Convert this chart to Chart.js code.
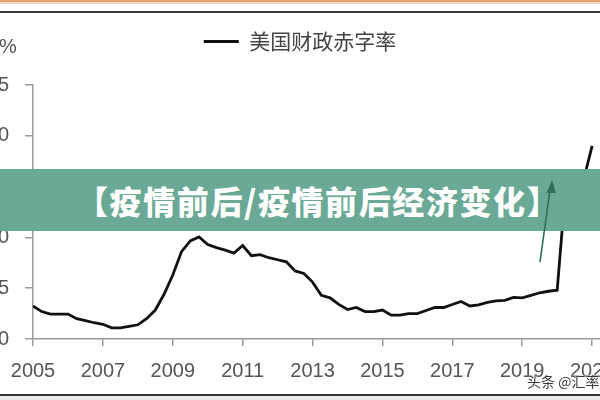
<!DOCTYPE html>
<html>
<head>
<meta charset="utf-8">
<script src="https://cdn.jsdelivr.net/npm/chart.js@4"></script>
<style>
html,body{margin:0;padding:0;width:600px;height:400px;overflow:hidden;background:#fff;}
body{position:relative;}
#wrap{position:absolute;left:-18px;top:0;width:636px;height:400px;}
.ov{position:absolute;z-index:5;}
#topA{left:0;top:0;width:600px;height:2px;background:#e8a26e;}
#topB{left:0;top:2px;width:600px;height:2px;background:#f7d3c6;}
#topLine{left:0;top:11px;width:600px;height:2px;background:#3a3a3a;}
#botLine{left:0;top:394px;width:600px;height:2px;background:#333;}
#botFill{left:0;top:396px;width:600px;height:4px;background:#ececec;}
#pct{left:-1px;top:35px;font:20px "Liberation Sans",Arial,sans-serif;color:#555;}
#banner{left:0;top:169px;width:600px;height:62px;background:#6aa995;}
#bannerText{left:76px;top:169px;height:62px;line-height:62px;font-family:"Noto Sans CJK SC",sans-serif;font-weight:900;font-size:32px;letter-spacing:1.6px;color:#fff;white-space:nowrap;}
#wm{left:527px;top:371px;font-family:"Noto Sans CJK SC",sans-serif;font-size:14px;color:#3a3a3a;white-space:nowrap;text-shadow:0 0 2px #fff,0 0 2px #fff;}
#arrow{left:0;top:0;width:600px;height:400px;}
</style>
</head>
<body>
<div id="wrap"><canvas id="c" width="636" height="400"></canvas></div>
<div class="ov" id="topA"></div>
<div class="ov" id="topB"></div>
<div class="ov" id="topLine"></div>
<div class="ov" id="botLine"></div>
<div class="ov" id="botFill"></div>
<div class="ov" id="pct">%</div>
<div class="ov" id="banner"></div>
<div class="ov" id="bannerText">【疫情前后/疫情前后经济变化】</div>
<svg class="ov" id="arrow" width="600" height="400">
  <line x1="540" y1="262" x2="550" y2="190" stroke="#2f6e5b" stroke-width="1.6"/>
  <polygon points="552,180 546.5,193 556,193" fill="#2f6e5b"/>
</svg>
<div class="ov" id="wm">头条 @汇率</div>
<script>
const seriesName = '美国财政赤字率';
const quarters = [
  2005.00, 2005.25, 2005.50, 2005.75,
  2006.00, 2006.25, 2006.50, 2006.75,
  2007.00, 2007.25, 2007.50, 2007.75,
  2008.00, 2008.25, 2008.50, 2008.75,
  2009.00, 2009.25, 2009.50, 2009.75,
  2010.00, 2010.25, 2010.50, 2010.75,
  2011.00, 2011.25, 2011.50, 2011.75,
  2012.00, 2012.25, 2012.50, 2012.75,
  2013.00, 2013.25, 2013.50, 2013.75,
  2014.00, 2014.25, 2014.50, 2014.75,
  2015.00, 2015.25, 2015.50, 2015.75,
  2016.00, 2016.25, 2016.50, 2016.75,
  2017.00, 2017.25, 2017.50, 2017.75,
  2018.00, 2018.25, 2018.50, 2018.75,
  2019.00, 2019.25, 2019.50, 2019.75,
  2020.00, 2020.25, 2020.50, 2020.75,
  2021.00
];
const deficit = [
  3.25, 2.7, 2.45, 2.45,
  2.45, 2.0, 1.8, 1.6,
  1.45, 1.1, 1.1, 1.25,
  1.4, 2.0, 2.85, 4.4,
  6.3, 8.6, 9.65, 10.05,
  9.3, 9.0, 8.75, 8.45,
  9.2, 8.2, 8.3, 8.0,
  7.8, 7.6, 6.7, 6.45,
  5.6, 4.3, 4.05, 3.4,
  2.9, 3.1, 2.7, 2.7,
  2.85, 2.35, 2.35, 2.5,
  2.5, 2.8, 3.1, 3.1,
  3.4, 3.7, 3.25, 3.35,
  3.6, 3.75, 3.8, 4.1,
  4.05, 4.3, 4.55, 4.7,
  4.8, 15.3, 14.8, 15.6,
  19.0
];
const yearTicks = [2005, 2007, 2009, 2011, 2013, 2015, 2017, 2019, 2021];
const yTicks = [0, 5, 10, 15, 20, 25];

const FONT = '"Liberation Sans", Arial, "Noto Sans CJK SC", sans-serif';

// gives the legend box extra room underneath so the plot starts lower
const legendSpace = {
  id: 'legendSpace',
  beforeLayout(chart) {
    const lg = chart.legend;
    if (lg && !lg._spacePatched) {
      const origFit = lg.fit.bind(lg);
      lg.fit = function () { origFit(); this.height = 64; };
      lg._spacePatched = true;
    }
  }
};

new Chart(document.getElementById('c').getContext('2d'), {
  type: 'line',
  data: {
    datasets: [{
      label: seriesName,
      data: quarters.map((q, i) => ({x: q, y: deficit[i]})),
      borderColor: '#111',
      backgroundColor: '#111',
      borderWidth: 2.8,
      pointRadius: 0,
      tension: 0,
      fill: false
    }]
  },
  plugins: [legendSpace],
  options: {
    responsive: false,
    animation: false,
    layout: {padding: {top: 21, left: 0, right: 0, bottom: 0}},
    plugins: {
      tooltip: {enabled: false},
      legend: {
        display: true,
        position: 'top',
        labels: {
          boxWidth: 35,
          boxHeight: 3,
          padding: 10,
          color: '#444',
          font: {size: 21, family: '"Noto Sans CJK SC", sans-serif'},
          generateLabels: (chart) => Chart.defaults.plugins.legend.labels.generateLabels(chart).map(l => Object.assign(l, {lineWidth: 0}))
        }
      }
    },
    scales: {
      x: {
        type: 'linear',
        min: 2005,
        max: 2021.74,
        afterBuildTicks: s => { s.ticks = yearTicks.map(v => ({value: v})); },
        afterFit: s => { s.height = 61; s.paddingLeft = 0; s.paddingRight = 0; },
        grid: {drawOnChartArea: false, drawTicks: true, tickLength: 7, color: '#9a9a9a', lineWidth: 1.5},
        border: {display: true, color: '#9a9a9a', width: 1.5},
        ticks: {color: '#555', font: {size: 20, family: FONT}, padding: 13, maxRotation: 0, autoSkip: false, callback: v => String(v)}
      },
      y: {
        min: 0,
        max: 25,
        afterBuildTicks: s => { s.ticks = yTicks.map(v => ({value: v})); },
        afterFit: s => { s.width = 51; s.paddingTop = 0; },
        grid: {drawOnChartArea: false, drawTicks: true, tickLength: 8, color: '#9a9a9a', lineWidth: 1.5},
        border: {display: true, color: '#9a9a9a', width: 1.5},
        ticks: {color: '#555', font: {size: 20, family: FONT}, padding: 16, callback: v => String(v)}
      }
    }
  }
});
</script>
</body>
</html>
